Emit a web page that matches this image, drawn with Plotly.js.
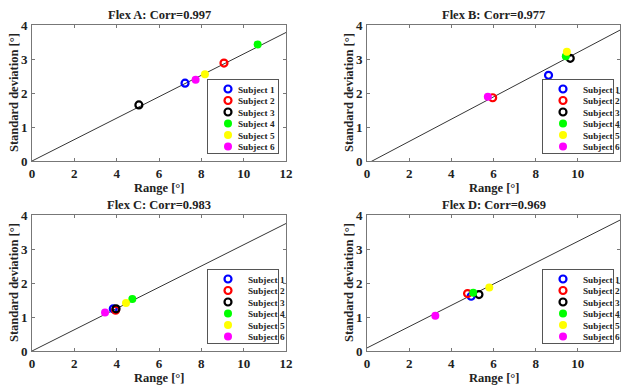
<!DOCTYPE html>
<html><head><meta charset="utf-8">
<script src="https://cdn.plot.ly/plotly-3.0.1.min.js"></script>
<style>html,body{margin:0;padding:0;overflow:hidden;width:621px;height:385px;background:#fff}#chart{position:absolute;left:0;top:0;width:621px;height:385px}</style>
</head><body><div id="chart"></div>
<script>
const subjects = ['Subject 1','Subject 2','Subject 3','Subject 4','Subject 5','Subject 6'];
const subjectColors = ['#0000ff','#ff0000','#000000','#00ff00','#ffff00','#ff00ff'];
const subjectOpen = [true,true,true,false,false,false];
const panelTitles = ['Flex A: Corr=0.997','Flex B: Corr=0.977','Flex C: Corr=0.983','Flex D: Corr=0.969'];
const xAxisTitle = 'Range [°]';
const yAxisTitle = 'Standard deviation [°]';
const xTicks = [0,2,4,6,8,10,12];
const yTicks = [0,1,2,3,4];

const rangeA = [7.23, 9.07, 5.05, 10.66, 8.17, 7.73];
const sdA    = [2.29, 2.88, 1.65, 3.43, 2.55, 2.39];
const rangeB = [8.61, 5.96, 9.64, 9.43, 9.48, 5.73];
const sdB    = [2.52, 1.86, 3.02, 3.08, 3.21, 1.89];
const rangeC = [3.84, 3.95, 3.97, 4.74, 4.44, 3.45];
const sdC    = [1.24, 1.20, 1.24, 1.53, 1.41, 1.13];
const rangeD = [4.94, 4.77, 5.31, 5.04, 5.80, 3.24];
const sdD    = [1.61, 1.69, 1.66, 1.71, 1.87, 1.04];

const fitX  = [0, 12];
const fitYA = [0.00, 3.78];
const fitYB = [-0.08, 3.85];
const fitYC = [0.00, 3.75];
const fitYD = [0.09, 3.85];

const FONT = 'Liberation Serif, Times New Roman, serif';
const panels = [
  {r: rangeA, s: sdA, fy: fitYA},
  {r: rangeB, s: sdB, fy: fitYB},
  {r: rangeC, s: sdC, fy: fitYC},
  {r: rangeD, s: sdD, fy: fitYD}
];
const W = 621, H = 385;
const boxes = [ // plot area px: left, right, top, bottom
  [32, 286, 25, 161], [367, 620, 25, 161],
  [32, 286, 215, 351], [367, 620, 215, 351]
];
const legendBoxes = [[207, 79], [542, 79], [207, 269], [542, 269]]; // left, top px

const traces = [];
const layout = {
  width: W, height: H, margin: {l:0, r:0, t:0, b:0, autoexpand: false},
  paper_bgcolor: '#fff', plot_bgcolor: '#fff',
  font: {family: FONT, color: '#222', size: 12},
  annotations: [], showlegend: true
};
const annFont = {family: FONT, size: 12.5, color: '#222'};
panels.forEach((p, k) => {
  const n = k + 1, sfx = n === 1 ? '' : String(n);
  const xa = 'x' + sfx, ya = 'y' + sfx, lg = 'legend' + sfx;
  traces.push({x: fitX, y: p.fy, xaxis: xa, yaxis: ya, mode: 'lines',
    line: {color: '#000', width: 0.8}, showlegend: false, hoverinfo: 'skip'});
  subjects.forEach((name, i) => {
    traces.push({x: [p.r[i]], y: [p.s[i]], xaxis: xa, yaxis: ya, mode: 'markers', name: name,
      legend: lg,
      marker: subjectOpen[i]
        ? {symbol: 'circle-open', size: 7, color: subjectColors[i], line: {width: 2.2, color: subjectColors[i]}}
        : {symbol: 'circle', size: 8, color: subjectColors[i], line: {width: 0}}});
  });
  const b = boxes[k];
  const axCommon = {showgrid: false, zeroline: false, showline: true, mirror: 'ticks',
    linecolor: '#777', linewidth: 1, ticks: 'inside', ticklen: 3, tickcolor: '#777',
    tickfont: {family: FONT, size: 13, color: '#222', weight: 'bold'}, fixedrange: true, automargin: false};
  layout['xaxis' + sfx] = Object.assign({}, axCommon, {
    domain: [b[0] / W, b[1] / W], anchor: ya, range: [0, 12], tickvals: xTicks, ticklabelstandoff: 0});
  layout['yaxis' + sfx] = Object.assign({}, axCommon, {
    domain: [1 - b[3] / H, 1 - b[2] / H], anchor: xa, range: [0, 4], tickvals: yTicks, ticklabelstandoff: 1});
  layout[lg] = {x: (legendBoxes[k][0]) / W, y: 1 - legendBoxes[k][1] / H, xanchor: 'left', yanchor: 'top',
    bgcolor: '#fff', bordercolor: '#555', borderwidth: 1,
    font: {family: FONT, size: 9.2, color: '#222', weight: 'bold'}};
  const cx = (b[0] + b[1]) / 2 / W;
  layout.annotations.push({text: '<b>' + panelTitles[k] + '</b>', xref: 'paper', yref: 'paper',
    x: cx, y: 1 - (b[2] - 10) / H, xanchor: 'center', yanchor: 'middle',
    showarrow: false, font: annFont});
  layout.annotations.push({text: '<b>' + xAxisTitle + '</b>', xref: 'paper', yref: 'paper',
    x: cx, y: 1 - (b[3] + 27) / H, xanchor: 'center', yanchor: 'middle',
    showarrow: false, font: annFont});
  layout.annotations.push({text: '<b>' + yAxisTitle + '</b>', xref: 'paper', yref: 'paper',
    x: (b[0] - 18) / W, y: 1 - (b[2] + b[3]) / 2 / H, xanchor: 'center', yanchor: 'middle', textangle: -90,
    showarrow: false, font: annFont});
});

Plotly.newPlot('chart', traces, layout, {staticPlot: true, displayModeBar: false}).then(gd => {
  // compact the legends to MATLAB-like spacing
  gd.querySelectorAll('g.legend, g.legend2, g.legend3, g.legend4').forEach(lgEl => {
    const items = lgEl.querySelectorAll('g.traces');
    const step = 11.5, first = 10;
    items.forEach((it, i) => {
      it.setAttribute('transform', 'translate(1,' + (first + i * step) + ')');
      const t = it.querySelector('text.legendtext');
      if (t) t.setAttribute('x', '30');
    });
    const bg = lgEl.querySelector('rect.bg');
    if (bg) { bg.setAttribute('height', '74'); bg.setAttribute('width', '71'); }
    const sb = lgEl.querySelector('g.scrollbox');
    if (sb) sb.removeAttribute('clip-path');
  });
});
</script>
</body></html>
